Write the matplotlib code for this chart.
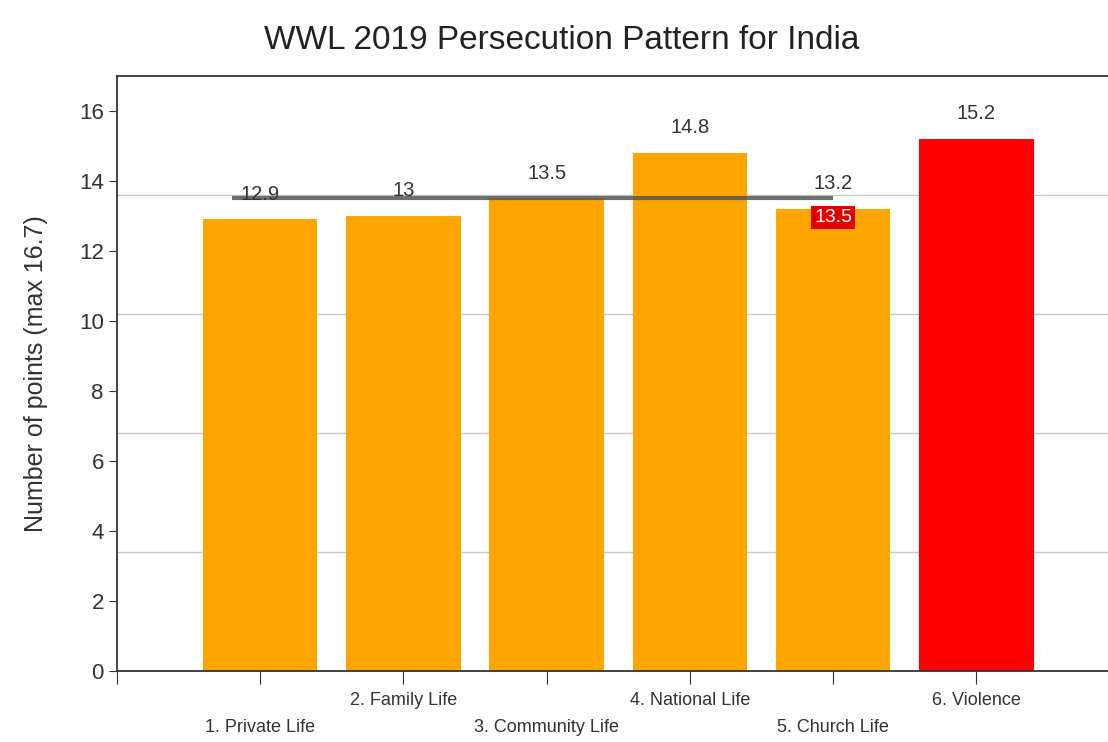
import numpy as np
import matplotlib
matplotlib.use('Agg')
import matplotlib.pyplot as plt

categories = ['1. Private Life', '2. Family Life', '3. Community Life',
              '4. National Life', '5. Church Life', '6. Violence']
values = [12.9, 13, 13.5, 14.8, 13.2, 15.2]
value_labels = ['12.9', '13', '13.5', '14.8', '13.2', '15.2']
colors = ['#FFA500', '#FFA500', '#FFA500', '#FFA500', '#FFA500', '#FF0000']
average = 13.5
yticks = [0, 2, 4, 6, 8, 10, 12, 14, 16]
grid_levels = [3.4, 6.8, 10.2, 13.6]

plt.rcParams['font.family'] = ['Liberation Sans', 'DejaVu Sans']

fig = plt.figure(figsize=(11.08, 7.42), dpi=100)
ax = fig.add_axes([0.1056, 0.0957, 0.8944, 0.8019])

x = np.arange(len(values))

for g in grid_levels:
    ax.axhline(g, color='#c8c8c8', lw=1, zorder=0)

ax.bar(x, values, width=0.8, color=colors, zorder=2)

for xi, v, lab in zip(x, values, value_labels):
    ax.text(xi, v + 0.45, lab, ha='center', va='bottom', fontsize=14.5, color='#333333', zorder=4)

# average line
ax.hlines(average, -0.2, 4.0, color='#555555', lw=3, alpha=0.85, zorder=3)
ax.text(4.0, average - 0.55, str(average), ha='center', va='center', fontsize=14,
        color='white', zorder=5,
        bbox=dict(boxstyle='square,pad=0.15', fc='#E00000', ec='none'))

ax.set_xlim(-1, 5.92)
ax.set_ylim(0, 17)
ax.set_yticks(yticks)
ax.set_xticks(np.arange(-1, len(values)))
ax.set_xticklabels([])
ax.tick_params(axis='y', labelsize=16, length=6, colors='#333333', labelcolor='#333333')
ax.tick_params(axis='x', length=9, direction='out', colors='#333333')

for i, c in enumerate(categories):
    yoff = -0.05 if i % 2 == 1 else -0.095
    ax.text(i, yoff, c, transform=ax.get_xaxis_transform(), ha='center', va='center',
            fontsize=13, color='#333333')

ax.spines['right'].set_visible(False)
for s in ['left', 'top', 'bottom']:
    ax.spines[s].set_color('#333333')
    ax.spines[s].set_linewidth(1.3)

ax.set_ylabel('Number of points (max 16.7)', fontsize=18, color='#333333', labelpad=22)
fig.text(0.507, 0.946, 'WWL 2019 Persecution Pattern for India', ha='center', va='center',
         fontsize=24, color='#222222')

fig.savefig('out.png', dpi=100)
